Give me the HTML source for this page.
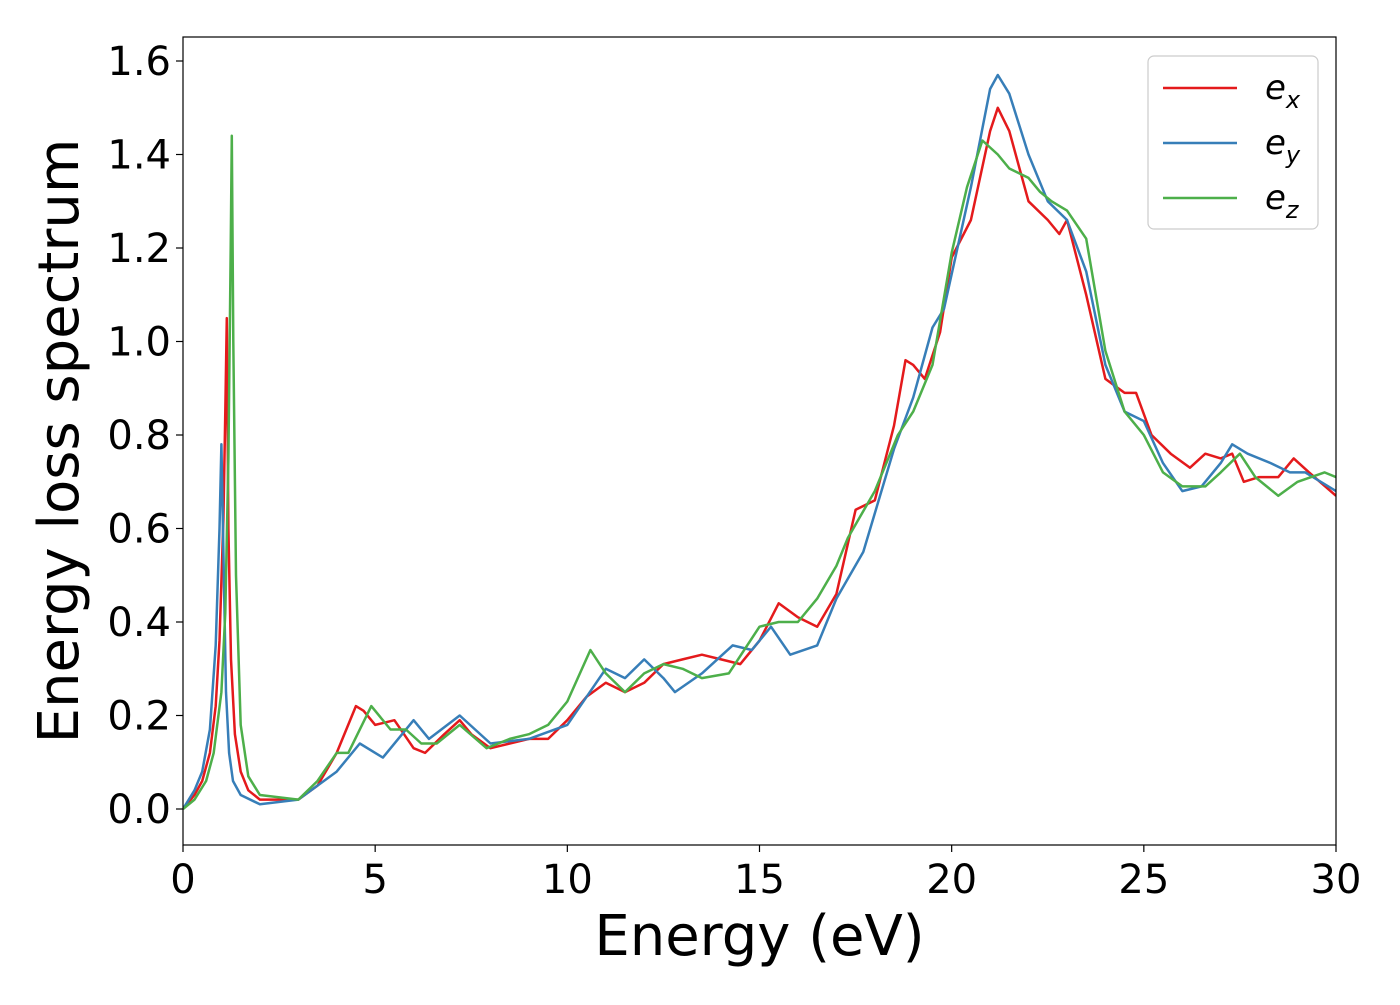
<!DOCTYPE html>
<html><head><meta charset="utf-8"><style>
body{margin:0;background:#fff;}
svg text{font-family:"DejaVu Sans","Liberation Sans",sans-serif;fill:#000;}
</style></head><body>
<svg width="1400" height="1000" xmlns="http://www.w3.org/2000/svg">
<rect x="0" y="0" width="1400" height="1000" fill="#fff"/>
<g id="plot"></g>
</svg>
<script>
const exE=[0,0.3,0.5,0.7,0.85,0.95,1.05,1.1,1.14,1.18,1.25,1.35,1.5,1.7,2,3,3.5,4,4.5,4.7,5,5.5,6,6.3,6.8,7.2,7.5,8,8.5,9,9.5,10,10.5,11,11.5,12,12.5,13,13.5,14,14.5,15,15.5,16,16.5,17,17.5,18,18.5,18.8,19,19.3,19.7,20,20.5,21,21.2,21.5,22,22.5,22.8,23,23.5,24,24.5,24.8,25.2,25.7,26.2,26.6,27,27.3,27.6,28,28.5,28.9,29.3,30];
const exV=[0,0.03,0.06,0.12,0.22,0.36,0.62,0.85,1.05,0.6,0.32,0.16,0.08,0.04,0.02,0.02,0.05,0.12,0.22,0.21,0.18,0.19,0.13,0.12,0.16,0.19,0.16,0.13,0.14,0.15,0.15,0.19,0.24,0.27,0.25,0.27,0.31,0.32,0.33,0.32,0.31,0.36,0.44,0.41,0.39,0.46,0.64,0.66,0.82,0.96,0.95,0.92,1.02,1.18,1.26,1.45,1.50,1.45,1.30,1.26,1.23,1.26,1.10,0.92,0.89,0.89,0.80,0.76,0.73,0.76,0.75,0.76,0.70,0.71,0.71,0.75,0.72,0.67];
const eyE=[0,0.3,0.5,0.7,0.85,0.95,1.0,1.05,1.12,1.2,1.3,1.5,2,3,4,4.6,5.2,5.6,6,6.4,7.2,8,9,10,11,11.5,12,12.5,12.8,13.5,14.3,14.8,15.3,15.8,16.5,17,17.7,18.5,19,19.5,19.8,20.5,21,21.2,21.5,22,22.5,23,23.5,24,24.5,25,25.5,26,26.5,27,27.3,27.7,28.3,28.8,29.2,30];
const eyV=[0,0.04,0.08,0.17,0.35,0.6,0.78,0.55,0.25,0.12,0.06,0.03,0.01,0.02,0.08,0.14,0.11,0.15,0.19,0.15,0.20,0.14,0.15,0.18,0.30,0.28,0.32,0.28,0.25,0.29,0.35,0.34,0.39,0.33,0.35,0.45,0.55,0.77,0.88,1.03,1.07,1.33,1.54,1.57,1.53,1.40,1.30,1.26,1.15,0.95,0.85,0.83,0.74,0.68,0.69,0.74,0.78,0.76,0.74,0.72,0.72,0.68];
const ezE=[0,0.3,0.6,0.8,1.0,1.1,1.18,1.24,1.27,1.31,1.38,1.5,1.7,2,3,3.5,4,4.3,4.9,5.4,5.8,6.2,6.6,7.2,7.9,8.5,9,9.5,10,10.6,11,11.5,12,12.5,13,13.5,14.2,15,15.5,16,16.5,17,17.3,18,18.6,19,19.5,20,20.4,20.8,21.2,21.5,22,22.3,22.6,23,23.5,24,24.5,25,25.5,26,26.6,27,27.5,27.9,28.5,29,29.7,30];
const ezV=[0,0.02,0.06,0.12,0.25,0.42,0.75,1.2,1.44,1.0,0.5,0.18,0.07,0.03,0.02,0.06,0.12,0.12,0.22,0.17,0.17,0.14,0.14,0.18,0.13,0.15,0.16,0.18,0.23,0.34,0.29,0.25,0.29,0.31,0.30,0.28,0.29,0.39,0.40,0.40,0.45,0.52,0.58,0.68,0.80,0.85,0.95,1.19,1.33,1.43,1.40,1.37,1.35,1.32,1.30,1.28,1.22,0.98,0.85,0.80,0.72,0.69,0.69,0.72,0.76,0.71,0.67,0.70,0.72,0.71];
const xTicks=[0,5,10,15,20,25,30];
const yTicks=[0,0.2,0.4,0.6,0.8,1.0,1.2,1.4,1.6];
const X0=183,X1=1336,YT=37,YB=845;
const xs=v=>X0+v/30*(X1-X0);
const ys=v=>809-v*(809-61)/1.6;
const NS='http://www.w3.org/2000/svg';
const g=document.getElementById('plot');
function mk(t,a,p){const e=document.createElementNS(NS,t);for(const k in a)e.setAttribute(k,a[k]);(p||g).appendChild(e);return e;}
const clip=mk('clipPath',{id:'cp'});mk('rect',{x:X0,y:YT,width:X1-X0,height:YB-YT},clip);
const series=[[exE,exV,'#e41a1c','series-ex'],[eyE,eyV,'#377eb8','series-ey'],[ezE,ezV,'#4daf4a','series-ez']];
series.forEach(s=>{
  const pts=s[0].map((e,i)=>xs(e).toFixed(1)+','+ys(s[1][i]).toFixed(1)).join(' ');
  const l=mk('polyline',{points:pts,fill:'none',stroke:s[2],'stroke-width':2.5,'stroke-linejoin':'round','clip-path':'url(#cp)'});
  
  
});
const frame=mk('rect',{x:X0,y:YT,width:X1-X0,height:YB-YT,fill:'none',stroke:'#000','stroke-width':1.2});


xTicks.forEach(t=>{
  mk('line',{x1:xs(t),x2:xs(t),y1:YB,y2:YB+7,stroke:'#000','stroke-width':1.2});
  const tx=mk('text',{x:xs(t),y:YB+48,'text-anchor':'middle','font-size':40});tx.textContent=t;
  
  
});
yTicks.forEach(t=>{
  mk('line',{x1:X0-7,x2:X0,y1:ys(t),y2:ys(t),stroke:'#000','stroke-width':1.2});
  const tx=mk('text',{x:X0-12,y:ys(t)+14,'text-anchor':'end','font-size':40});tx.textContent=t.toFixed(1);
  
  
});
const xl=mk('text',{x:(X0+X1)/2,y:955,'text-anchor':'middle','font-size':56});xl.textContent='Energy (eV)';


const yl=mk('text',{x:0,y:0,'text-anchor':'middle','font-size':56,transform:'translate(78,441) rotate(-90)'});yl.textContent='Energy loss spectrum';


const lg=mk('g',{});


mk('rect',{x:1148,y:56,width:170,height:173,rx:6,fill:'#fff',stroke:'#ccc','stroke-width':1.2},lg);
const subs=['x','y','z'];
series.forEach((s,i)=>{
  const y=88+i*55;
  mk('line',{x1:1163,x2:1237,y1:y,y2:y,stroke:s[2],'stroke-width':2.5},lg);
  const t=mk('text',{x:1265,y:y+11,'font-size':34,'font-style':'italic'},lg);
  
  
  t.textContent='e';
  const sb=mk('tspan',{'font-size':24,dy:9},t);sb.textContent=subs[i];
});
</script>
</body></html>
